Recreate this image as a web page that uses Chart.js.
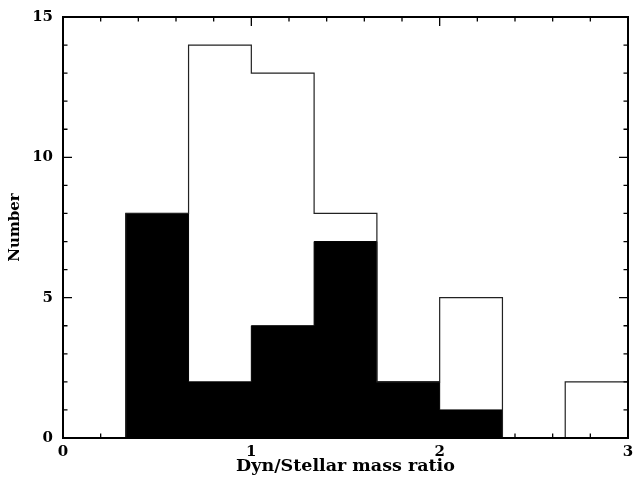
<!DOCTYPE html>
<html lang="en">
<head>
    <meta charset="UTF-8">
    <title>Dyn/Stellar mass ratio</title>
    <script src="https://cdn.jsdelivr.net/npm/chart.js@4.4.0/dist/chart.umd.min.js"></script>
    <style>
        body { margin: 0; background: #fff; }
        #wrap { width: 636px; height: 483px; }
    </style>
</head>
<body>
    <div id="wrap"><canvas id="chart"></canvas></div>
    <script>
        // bin edges (width 1/3) and counts per bin
        var binEdges = [1/3, 2/3, 1, 4/3, 5/3, 2, 7/3, 8/3, 3];
        var allCounts = [8, 14, 13, 8, 2, 5, 0, 2];
        var filledCounts = [8, 2, 4, 7, 2, 1, 0, 0];
        var xTicks = [0, 1, 2, 3];
        var yTicks = [0, 5, 10, 15];

        // stepped points: each value holds from its left edge to the next edge
        function stepPoints(counts) {
            var pts = [{x: binEdges[0], y: 0}];
            for (var i = 0; i < counts.length; i++) {
                pts.push({x: binEdges[i], y: counts[i]});
            }
            pts.push({x: binEdges[binEdges.length - 1], y: counts[counts.length - 1]});
            return pts;
        }

        var FAM = 'DejaVu Serif';

        // frame plus inward ticks on all four sides
        const frameTicks = {
            id: 'frameTicks',
            afterDatasetsDraw(chart) {
                const c = chart.ctx, a = chart.chartArea;
                const xs = chart.scales.x, ys = chart.scales.y;
                c.save();
                c.strokeStyle = '#000';
                c.lineWidth = 1.3;
                c.beginPath();
                for (let k = 0; k <= 15; k++) {
                    const v = k / 5;
                    const px = xs.getPixelForValue(v);
                    const len = (k % 5 === 0) ? 9 : 4.5;
                    c.moveTo(px, a.bottom); c.lineTo(px, a.bottom - len);
                    c.moveTo(px, a.top); c.lineTo(px, a.top + len);
                }
                for (let v = 0; v <= 15; v++) {
                    const py = ys.getPixelForValue(v);
                    const len = (v % 5 === 0) ? 9 : 4.5;
                    c.moveTo(a.left, py); c.lineTo(a.left + len, py);
                    c.moveTo(a.right, py); c.lineTo(a.right - len, py);
                }
                c.stroke();
                c.lineWidth = 2;
                c.strokeRect(a.left, a.top, a.right - a.left, a.bottom - a.top);
                c.restore();
            }
        };

        const ctx = document.getElementById('chart').getContext('2d');
        new Chart(ctx, {
            type: 'line',
            data: {
                datasets: [{
                    label: 'all',
                    data: stepPoints(allCounts),
                    stepped: true,
                    fill: false,
                    borderColor: '#222',
                    borderWidth: 1.2,
                    pointRadius: 0
                }, {
                    label: 'filled',
                    data: stepPoints(filledCounts),
                    stepped: true,
                    fill: 'origin',
                    backgroundColor: '#000',
                    borderColor: '#000',
                    borderWidth: 1,
                    pointRadius: 0
                }]
            },
            options: {
                responsive: true,
                maintainAspectRatio: false,
                animation: false,
                layout: { padding: { top: 17, right: 8, left: 0, bottom: 0 } },
                plugins: { legend: { display: false }, tooltip: { enabled: false } },
                scales: {
                    x: {
                        type: 'linear',
                        min: 0,
                        max: 3,
                        afterBuildTicks: s => { s.ticks = xTicks.map(v => ({value: v})); },
                        afterFit: s => { s.height = 45; s.paddingLeft = 0; s.paddingRight = 0; },
                        grid: { display: false, drawTicks: false },
                        border: { display: false },
                        ticks: { color: '#000', padding: 5, maxRotation: 0, font: { family: FAM, size: 15, weight: 'bold' } },
                        title: {
                            display: true,
                            text: 'Dyn/Stellar mass ratio',
                            color: '#000',
                            padding: { top: 0, bottom: 6 },
                            font: { family: FAM, size: 17.5, weight: 'bold' }
                        }
                    },
                    y: {
                        min: 0,
                        max: 15,
                        afterBuildTicks: s => { s.ticks = yTicks.map(v => ({value: v})); },
                        afterFit: s => { s.width = 63; s.paddingTop = 0; s.paddingBottom = 0; },
                        grid: { display: false, drawTicks: false },
                        border: { display: false },
                        ticks: { color: '#000', padding: 10, font: { family: FAM, size: 15, weight: 'bold' } },
                        title: {
                            display: true,
                            text: 'Number',
                            color: '#000',
                            padding: { top: 6, bottom: 0 },
                            font: { family: FAM, size: 15, weight: 'bold' }
                        }
                    }
                }
            },
            plugins: [frameTicks]
        });
    </script>
</body>
</html>
